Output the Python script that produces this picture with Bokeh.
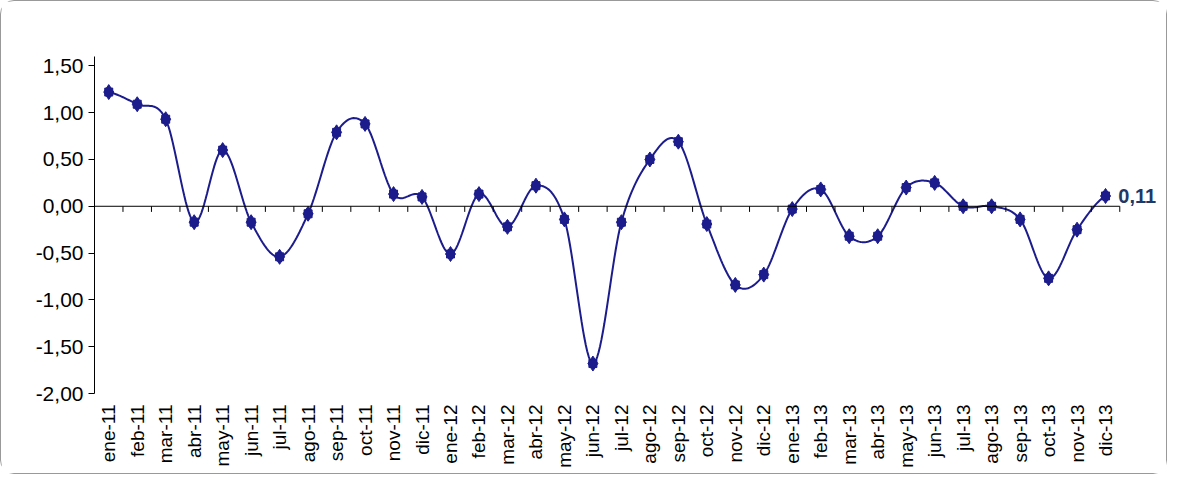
import numpy as np
from bokeh.plotting import figure
from bokeh.models import FixedTicker, Range1d
from bokeh.core.properties import value
from bokeh.embed import file_html
from bokeh.resources import INLINE

months = ["ene","feb","mar","abr","may","jun","jul","ago","sep","oct","nov","dic"]
labels = [f"{m}-{y}" for y in ["11","12","13"] for m in months]
vals = [1.22,1.09,0.93,-0.17,0.60,-0.17,-0.54,-0.08,0.79,0.88,0.13,0.10,
        -0.51,0.13,-0.22,0.22,-0.14,-1.68,-0.17,0.50,0.69,-0.19,-0.84,-0.73,
        -0.03,0.18,-0.32,-0.32,0.20,0.25,0.00,0.00,-0.14,-0.77,-0.25,0.11]
yticks = [-2.0,-1.5,-1.0,-0.5,0.0,0.5,1.0,1.5]

x = np.arange(len(vals), dtype=float)
y = np.array(vals)

P = np.concatenate([[y[0]], y, [y[-1]]])
X = np.concatenate([[x[0]-1], x, [x[-1]+1]])
sx, sy = [], []
for i in range(1, len(P)-2):
    t = np.linspace(0, 1, 20, endpoint=False)
    for arr, out in ((X, sx), (P, sy)):
        p0, p1, p2, p3 = arr[i-1], arr[i], arr[i+1], arr[i+2]
        out.extend(0.5*((2*p1) + (-p0+p2)*t + (2*p0-5*p1+4*p2-p3)*t**2 + (-p0+3*p1-3*p2+p3)*t**3))
sx.append(x[-1]); sy.append(y[-1])

p = figure(width=1167, height=474, output_backend="svg", toolbar_location=None,
           x_range=Range1d(-0.5, len(vals)+1.0), y_range=Range1d(-2.0, 1.6),
           min_border_left=93, min_border_right=6, min_border_top=55, min_border_bottom=82)
p.styles = {"border": "1px solid #999", "border-radius": "14px"}
p.outline_line_color = None
p.xgrid.visible = False
p.ygrid.visible = False

p.line(sx, sy, line_color="#1c1c8c", line_width=2)
p.scatter(x, y, marker="diamond", size=15, fill_color="#1c1c8c", line_color="#1c1c8c")
p.scatter(x, y, marker="square", size=8, fill_color="#1c1c8c", line_color="#1c1c8c")

bx = np.arange(len(vals)+1) - 0.5
p.line([bx[0], bx[-1]], [0, 0], line_color="black", line_width=1)
p.segment(x0=bx, y0=np.zeros_like(bx), x1=bx, y1=np.full_like(bx, -0.06), line_color="black")

p.text([x[-1]+0.45], [y[-1]], text=["0,11"], text_font=value("Liberation Sans"),
       text_font_style="bold", text_font_size="20px", text_color="#1f3864",
       text_baseline="middle")

p.yaxis.ticker = FixedTicker(ticks=yticks)
p.yaxis.major_label_overrides = {t: f"{t:.2f}".replace(".", ",") for t in yticks}
p.yaxis.major_label_text_font = "Liberation Sans"
p.yaxis.major_label_text_font_size = "21px"
p.yaxis.major_label_text_color = "black"
p.yaxis.major_tick_out = 6
p.yaxis.major_tick_in = 0
p.yaxis.minor_tick_line_color = None
p.yaxis.axis_line_color = "black"

p.xaxis.ticker = FixedTicker(ticks=list(x))
p.xaxis.major_label_overrides = {float(i): l for i, l in enumerate(labels)}
p.xaxis.major_label_orientation = np.pi/2
p.xaxis.major_label_text_font = "Liberation Sans"
p.xaxis.major_label_text_font_size = "19px"
p.xaxis.major_label_text_color = "black"
p.xaxis.axis_line_color = None
p.xaxis.major_tick_line_color = None
p.xaxis.minor_tick_line_color = None

open("out.html", "w").write(file_html(p, INLINE))
